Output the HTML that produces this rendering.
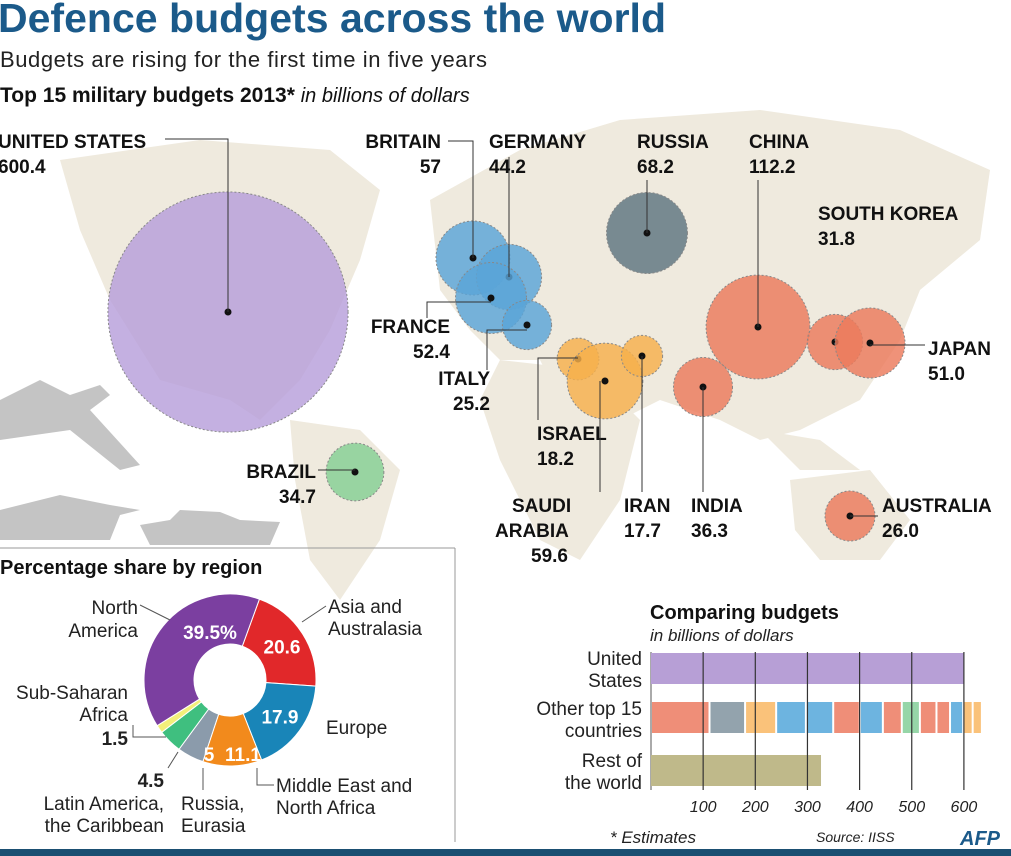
<!DOCTYPE html>
<html><head><meta charset="utf-8"><style>
body{margin:0;width:1011px;height:856px;overflow:hidden;background:#fff;font-family:"Liberation Sans",sans-serif}
svg{position:absolute;left:0;top:0}
</style></head><body>
<svg width="1011" height="856" viewBox="0 0 1011 856">
<g fill="#efeade">
<path d="M60 160 L200 140 L330 150 L380 190 L360 260 L330 330 L300 380 L260 420 L230 400 L160 380 L110 300 L80 230 Z"/>
<path d="M290 420 L360 430 L400 470 L380 540 L340 600 L310 560 L295 480 Z"/>
<path d="M430 200 L520 150 L620 120 L760 110 L900 130 L990 170 L980 240 L920 290 L900 340 L860 400 L800 430 L760 440 L720 420 L690 410 L660 400 L620 420 L580 420 L560 400 L540 360 L500 360 L470 330 L440 290 Z"/>
<path d="M500 360 L590 370 L640 420 L620 500 L580 560 L540 540 L500 460 L480 400 Z"/>
<path d="M790 480 L870 470 L910 520 L880 560 L820 560 L795 530 Z"/>
<path d="M760 430 L820 440 L860 470 L800 470 Z"/>
</g>
<g fill="#c4c4c4">
<path d="M0 400 L40 380 L70 395 L100 385 L110 395 L90 410 L140 465 L120 470 L70 430 L0 440 Z"/>
<path d="M0 510 L40 500 L60 495 L110 505 L140 510 L120 515 L110 540 L0 540 Z"/>
<path d="M140 525 L170 520 L180 510 L220 512 L240 520 L280 522 L270 545 L150 545 Z"/>
</g>
<text x="-2" y="32" font-size="41" font-weight="bold" fill="#1b5a8a" textLength="668">Defence budgets across the world</text>
<text x="0" y="67" font-size="22" fill="#222" textLength="487">Budgets are rising for the first time in five years</text>
<text x="0" y="102" font-size="21" font-weight="bold" fill="#111">Top 15 military budgets 2013* <tspan font-weight="normal" font-style="italic" font-size="20">in billions of dollars</tspan></text>
<g id="bubbles"></g>
<g id="labels" font-size="19" font-weight="bold" fill="#111"></g>
<line x1="0" y1="548" x2="455" y2="548" stroke="#999"/>
<line x1="455" y1="548" x2="455" y2="842" stroke="#999"/>
<text x="0" y="574" font-size="20" font-weight="bold" fill="#111">Percentage share by region</text>
<g id="donut"></g>
<g font-size="19" fill="#222">
<text x="138" y="614" text-anchor="end">North</text><text x="138" y="637" text-anchor="end">America</text>
<line x1="140" y1="605" x2="170" y2="620" stroke="#555"/>
<text x="328" y="613">Asia and</text><text x="328" y="635">Australasia</text>
<line x1="326" y1="606" x2="302" y2="622" stroke="#555"/>
<text x="128" y="699" text-anchor="end">Sub-Saharan</text><text x="128" y="721" text-anchor="end">Africa</text>
<text x="128" y="745" text-anchor="end" font-weight="bold">1.5</text>
<path d="M133 725 V737 H166" fill="none" stroke="#555"/>
<text x="326" y="734">Europe</text>
<text x="164" y="787" text-anchor="end" font-weight="bold">4.5</text>
<text x="164" y="810" text-anchor="end">Latin America,</text><text x="164" y="832" text-anchor="end">the Caribbean</text>
<line x1="168" y1="768" x2="178" y2="752" stroke="#555"/>
<text x="181" y="810">Russia,</text><text x="181" y="832">Eurasia</text>
<line x1="203" y1="768" x2="203" y2="790" stroke="#555"/>
<text x="276" y="792">Middle East and</text><text x="276" y="814">North Africa</text>
<path d="M257 768 V785 H274" fill="none" stroke="#555"/>
</g>
<text x="650" y="619" font-size="20" font-weight="bold" fill="#111">Comparing budgets</text>
<text x="650" y="641" font-size="17" font-style="italic" fill="#222">in billions of dollars</text>
<g id="bars"></g>
<text x="610" y="843" font-size="17" font-style="italic" fill="#222">* Estimates</text>
<text x="816" y="842" font-size="14" font-style="italic" fill="#222">Source: IISS</text>
<text x="960" y="845" font-size="20" font-weight="bold" font-style="italic" fill="#1b5a8a">AFP</text>
<rect x="0" y="849" width="1011" height="7" fill="#1b4f72"/>
</svg>
<script>
const NS="http://www.w3.org/2000/svg";
function mk(t,a,p){const e=document.createElementNS(NS,t);for(const k in a)e.setAttribute(k,a[k]);p.appendChild(e);return e;}
const countries=["UNITED STATES","BRITAIN","GERMANY","FRANCE","ITALY","RUSSIA","CHINA","SOUTH KOREA","JAPAN","INDIA","ISRAEL","SAUDI ARABIA","IRAN","BRAZIL","AUSTRALIA"];
const budgets=[600.4,57,44.2,52.4,25.2,68.2,112.2,31.8,51.0,36.3,18.2,59.6,17.7,34.7,26.0];
const budgetLabels=["600.4","57","44.2","52.4","25.2","68.2","112.2","31.8","51.0","36.3","18.2","59.6","17.7","34.7","26.0"];
const bx=[228,473,509,491,527,647,758,835,870,703,578,605,642,355,850];
const by=[312,258,277,298,325,233,327,342,343,387,359,381,356,472,516];
const bcol=["#b79fdb","#5aa5d8","#5aa5d8","#5aa5d8","#5aa5d8","#5e7580","#ec7a5c","#ec7a5c","#ec7a5c","#ec7a5c","#f6b04c","#f6b04c","#f6b04c","#85cf94","#ec7a5c"];
const bg=document.getElementById('bubbles');
budgets.forEach((v,i)=>{
  const c=mk('circle',{cx:bx[i],cy:by[i],r:4.9*Math.sqrt(v),fill:bcol[i],'fill-opacity':0.82,stroke:'#888','stroke-dasharray':'2 2'},bg);
  
  
  mk('circle',{cx:bx[i],cy:by[i],r:3.5,fill:'#111'},bg);
});
const lab=[[-2,148,"start","M165 139 H228 V312"],[441,148,"end","M448 141 H473 V258"],[489,148,"start","M509 157 V277"],[450,333,"end","M427 318 V302 H491"],[490,385,"end","M487 370 V330 H527"],[637,148,"start","M647 180 V233"],[749,148,"start","M758 180 V327"],[818,220,"start",""],[928,355,"start","M870 345 H925"],[691,512,"start","M703 387 V492"],[537,440,"start","M538 420 V358 H578"],[512,512,"start","M600 492 V381"],[624,512,"start","M642 356 V492"],[316,478,"end","M318 470 H355"],[882,512,"start","M850 516 H878"]];
const lg=document.getElementById('labels');
countries.forEach((n,i)=>{
  const L=lab[i];
  if(L[3])mk('path',{d:L[3],fill:'none',stroke:'#333','stroke-width':1},lg);
  const t=mk('text',{x:L[0],y:L[1],'text-anchor':L[2]},lg);
  
  
  if(n==="SAUDI ARABIA"){t.textContent="SAUDI";mk('text',{x:L[0]-17,y:L[1]+25,'text-anchor':'start'},lg).textContent="ARABIA";mk('text',{x:L[0]+19,y:L[1]+50},lg).textContent=budgetLabels[i];return;}
  t.textContent=n;
  mk('text',{x:L[0],y:L[1]+25,'text-anchor':L[2]},lg).textContent=budgetLabels[i];
});
const regions=["Asia and Australasia","Europe","Middle East and North Africa","Russia, Eurasia","Latin America","Sub-Saharan Africa","North America"];
const shares=[20.6,17.9,11.1,5,4.5,1.5,39.5];
const shareLabels=["20.6","17.9","11.1","5","","","39.5%"];
const dcol=["#e1282a","#1985b8","#f28a1c","#8b9bab","#3fbf7f","#f3ef7a","#7b3fa0"];
const dg=document.getElementById('donut');
const cx=230,cy=680,R=86,r0=36;
const tot=shares.reduce((a,b)=>a+b,0);
let a=20*Math.PI/180;
shares.forEach((s,i)=>{
  const a2=a+s/tot*2*Math.PI;
  const p=(ang,rr)=>[cx+rr*Math.sin(ang),cy-rr*Math.cos(ang)];
  const [x1,y1]=p(a,R),[x2,y2]=p(a2,R),[x3,y3]=p(a2,r0),[x4,y4]=p(a,r0);
  const lf=(a2-a)>Math.PI?1:0;
  const e=mk('path',{d:`M${x1} ${y1}A${R} ${R} 0 ${lf} 1 ${x2} ${y2}L${x3} ${y3}A${r0} ${r0} 0 ${lf} 0 ${x4} ${y4}Z`,fill:dcol[i],stroke:'#fff','stroke-width':1},dg);
  
  
  if(shareLabels[i]){
    let m=(a+a2)/2;const [tx,ty]=p(m,i===6?70:62);
    let ox=tx,oy=ty;
    if(i===6){ox=210;oy=632;} if(i===3){ox=209;oy=754;} if(i===2){ox=243;oy=754;}
    const t=mk('text',{x:ox,y:oy+7,'text-anchor':'middle','font-size':19,fill:'#fff','font-weight':'bold'},dg);
    t.textContent=shareLabels[i];
  }
  a=a2;
});
const barCats=["United States","Other top 15 countries","Rest of the world"];
const usVal=[600.4];
const otherVals=[112.2,68.2,59.6,57,52.4,51.0,44.2,36.3,34.7,31.8,26.0,25.2,18.2,17.7];
const otherCols=["#ef8e78","#93a3ad","#fac27a","#6db4e0","#6db4e0","#ef8e78","#6db4e0","#ef8e78","#96d6a8","#ef8e78","#ef8e78","#6db4e0","#fac27a","#fac27a"];
const restVal=[326];
const ticks=[100,200,300,400,500,600];
const bgr=document.getElementById('bars');
const X=v=>651+v*0.5215;
mk('line',{x1:651,y1:652,x2:651,y2:790,stroke:'#555'},bgr);
const ub=mk('rect',{x:X(0),y:653,width:X(usVal[0])-X(0),height:31,fill:'#b79fd6'},bgr);

let acc=0;
otherVals.forEach((v,i)=>{
  const s=mk('rect',{x:X(acc)+1,y:702,width:X(acc+v)-X(acc)-2,height:31,fill:otherCols[i]},bgr);
  
  acc+=v;
});
const rb=mk('rect',{x:X(0),y:755,width:X(restVal[0])-X(0),height:31,fill:'#bfb98a'},bgr);

ticks.forEach(t=>{
  mk('line',{x1:X(t),y1:652,x2:X(t),y2:790,stroke:'#333','stroke-width':1.2},bgr);
  const tt=mk('text',{x:X(t),y:812,'text-anchor':'middle','font-size':16,'font-style':'italic',fill:'#222'},bgr);tt.textContent=t;
});
const catLines=[["United","States"],["Other top 15","countries"],["Rest of","the world"]];
const cy0=[665,715,767];
catLines.forEach((c,i)=>{
  mk('text',{x:642,y:cy0[i],'text-anchor':'end','font-size':19,fill:'#222'},bgr).textContent=c[0];
  mk('text',{x:642,y:cy0[i]+22,'text-anchor':'end','font-size':19,fill:'#222'},bgr).textContent=c[1];
});
</script>
</body></html>
